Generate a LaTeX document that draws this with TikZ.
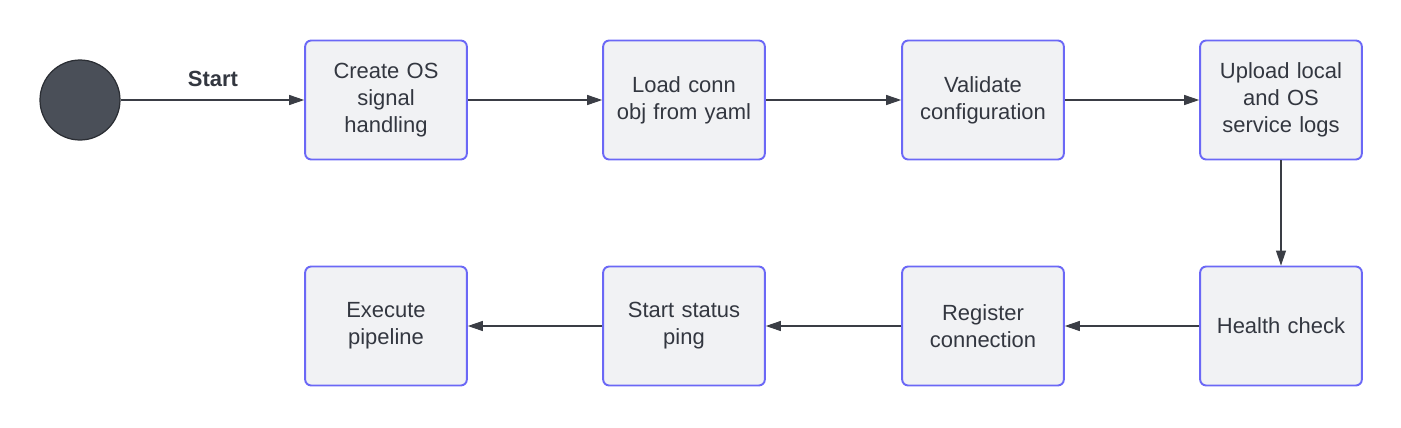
\documentclass[tikz,border=0pt]{standalone}
\usepackage{fontspec}
\setmainfont{Liberation Sans}
\usetikzlibrary{arrows.meta,positioning}

\definecolor{boxfill}{HTML}{F1F2F4}
\definecolor{boxline}{HTML}{6B68F6}
\definecolor{dotfill}{HTML}{4A4F58}
\definecolor{dotline}{HTML}{2B2E34}
\definecolor{linkcol}{HTML}{3A3D45}
\definecolor{txtcol}{HTML}{333740}

\begin{document}
\begin{tikzpicture}
	% Styles
	[
	x=0.02cm, y=-0.02cm,
	every node/.style={font=\fontsize{12.5}{15.4}\selectfont, text=txtcol},
	startdot/.style={circle,draw=dotline,fill=dotfill,line width=0.7pt,inner sep=0pt,minimum size=1.6cm},
	stepbox/.style={rectangle,rounded corners=0.12cm,draw=boxline,fill=boxfill,line width=1.1pt,
		minimum width=3.2cm,minimum height=2.38cm,align=center,text width=3cm},
	link/.style={draw=linkcol,line width=0.6pt,-{Triangle[length=0.3cm,width=0.2cm]}},
	]

	\useasboundingbox (0,0) rectangle (1401,427);

	% Nodes
	\node at (80,100)	(start)	[startdot]	{};
	\node at (386,100)	(signal)	[stepbox]	{Create OS\\signal\\handling};
	\node at (684,100)	(load)	[stepbox]	{Load conn\\obj from yaml};
	\node at (983,100)	(validate)	[stepbox]	{Validate\\configuration};
	\node at (1281,100)	(upload)	[stepbox]	{Upload local\\and OS\\service logs};
	\node at (1281,326)	(health)	[stepbox]	{Health check};
	\node at (983,326)	(register)	[stepbox]	{Register\\connection};
	\node at (684,326)	(ping)	[stepbox]	{Start status\\ping};
	\node at (386,326)	(pipeline)	[stepbox]	{Execute\\pipeline};

	% Arrows
	\draw[link] (start) -- (signal);
	\draw[link] (signal) -- (load);
	\draw[link] (load) -- (validate);
	\draw[link] (validate) -- (upload);
	\draw[link] (upload) -- (health);
	\draw[link] (health) -- (register);
	\draw[link] (register) -- (ping);
	\draw[link] (ping) -- (pipeline);

	% Text
	\node at (213,79)	(startlbl)	{\bfseries Start};
\end{tikzpicture}
\end{document}
